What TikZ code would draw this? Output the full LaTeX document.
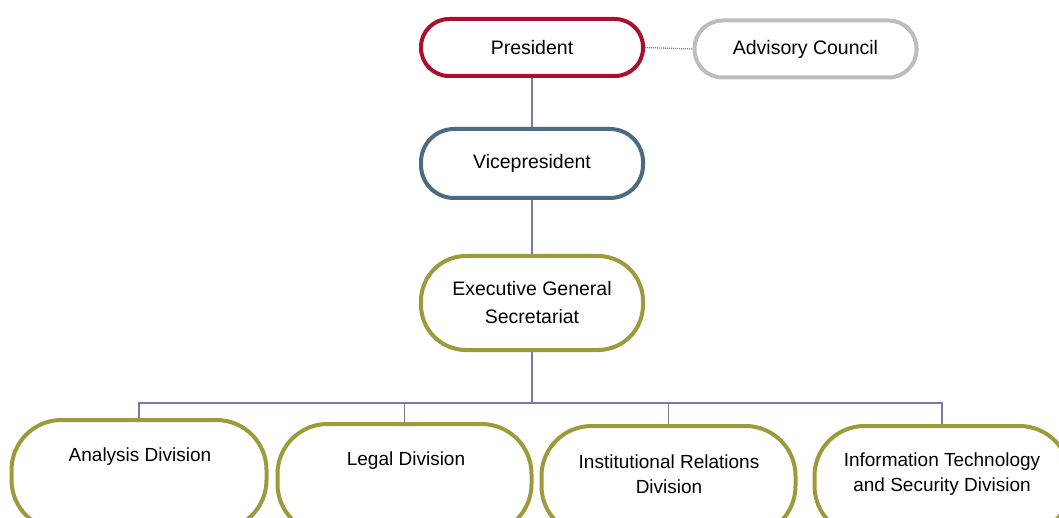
\documentclass[tikz,border=0pt]{standalone}
\usepackage{fontspec}
\setmainfont{Liberation Sans}
\definecolor{predred}{HTML}{A8102E}
\definecolor{advgray}{HTML}{BDBDBD}
\definecolor{vpblue}{HTML}{4D6B80}
\definecolor{olive}{HTML}{9C9A3A}
\definecolor{linkc}{HTML}{7A78A8}
\begin{document}
\begin{tikzpicture}[x=1pt,y=-1pt,
  orgbox/.style={draw, line width=4pt, rounded corners=28pt, fill=white,
    minimum width=#1, inner sep=0pt, align=center, font=\fontsize{19.5}{28}\selectfont},
  orgbox/.default=222pt,
  link/.style={draw=linkc, line width=1.3pt},
  lbl/.style={font=\fontsize{19}{25}\selectfont, align=center, inner sep=0pt}]
\useasboundingbox (0,0) rectangle (1059,518);
% top row
\node[orgbox, draw=predred, minimum height=57pt] (pres) at (532,47.5) {President};
\node[orgbox, draw=advgray, minimum height=57pt] (adv) at (805.5,49) {Advisory Council};
\node[orgbox, draw=vpblue, minimum height=69pt, rounded corners=33pt] (vp) at (532,163.5) {Vicepresident};
\node[orgbox, draw=olive, minimum height=94pt, rounded corners=45pt] (exec) at (532,303) {Executive General\\Secretariat};
% bottom row boxes
\node[orgbox=255pt, draw=olive, minimum height=110pt, rounded corners=50pt] (ana) at (139,475) {};
\node[orgbox=254pt, draw=olive, minimum height=110pt, rounded corners=50pt] (leg) at (404.5,479) {};
\node[orgbox=254pt, draw=olive, minimum height=110pt, rounded corners=50pt] (ins) at (668.5,481) {};
\node[orgbox=255pt, draw=olive, minimum height=110pt, rounded corners=50pt] (ite) at (942,481) {};
% labels
\node[lbl] (anat) at (140,457) {Analysis Division};
\node[lbl] (legt) at (406,461) {Legal Division};
\node[lbl] (inst) at (669,474) {Institutional Relations\\Division};
\node[lbl] (itet) at (942,474) {Information Technology\\and Security Division};
% connectors
\draw[draw=linkc, line width=1.3pt, dash pattern=on 1pt off 1pt] (pres.east) -- (adv.west);
\draw[link] (pres.south) -- (vp.north);
\draw[link] (vp.south) -- (exec.north);
\coordinate (bus) at (532,403);
\draw[link] (exec.south) -- (bus);
\draw[link] (ana.north) |- (bus) -| (ite.north);
\draw[link] (leg.north) -- (leg.north |- bus);
\draw[link] (ins.north) -- (ins.north |- bus);
\end{tikzpicture}
\end{document}
